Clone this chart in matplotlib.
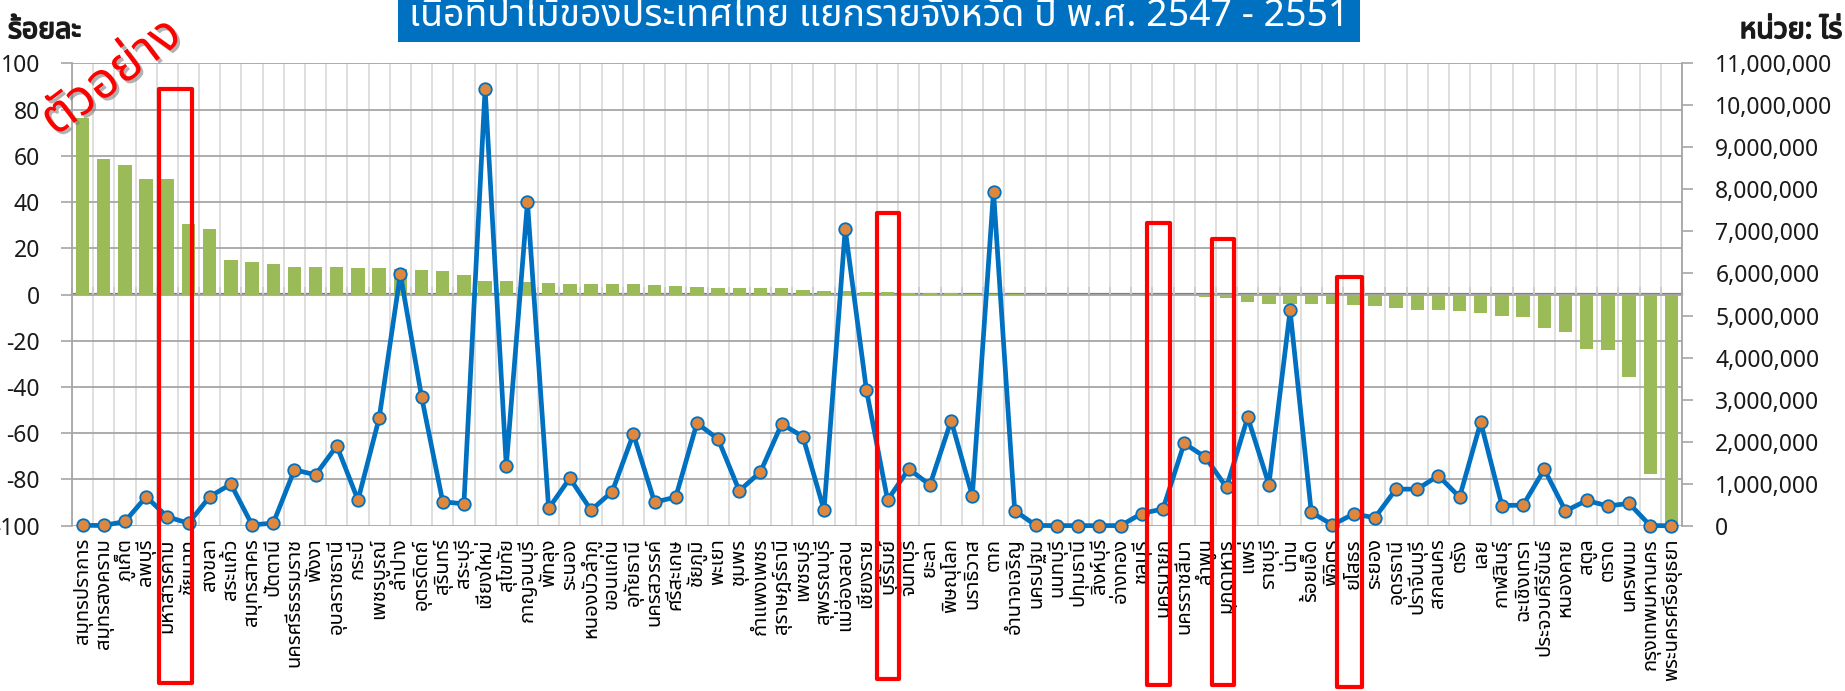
import numpy as np
import matplotlib
matplotlib.use("Agg")
import matplotlib.pyplot as plt
from matplotlib import font_manager
from matplotlib.ft2font import FT2Font
from matplotlib.patches import Rectangle
from matplotlib.ticker import FuncFormatter, NullLocator, NullFormatter
import matplotlib.patheffects as pe

# ---------------- data ----------------
provinces = [
    "สมุทรปราการ", "สมุทรสงคราม", "ภูเก็ต", "ลพบุรี", "มหาสารคาม", "ชัยนาท", "สงขลา", "สระแก้ว",
    "สมุทรสาคร", "ปัตตานี", "นครศรีธรรมราช", "พังงา", "อุบลราชธานี", "กระบี่", "เพชรบูรณ์", "ลำปาง",
    "อุตรดิตถ์", "สุรินทร์", "สระบุรี", "เชียงใหม่", "สุโขทัย", "กาญจนบุรี", "พัทลุง", "ระนอง",
    "หนองบัวลำภู", "ขอนแก่น", "อุทัยธานี", "นครสวรรค์", "ศรีสะเกษ", "ชัยภูมิ", "พะเยา", "ชุมพร",
    "กำแพงเพชร", "สุราษฎร์ธานี", "เพชรบุรี", "สุพรรณบุรี", "แม่ฮ่องสอน", "เชียงราย", "บุรีรัมย์", "จันทบุรี",
    "ยะลา", "พิษณุโลก", "นราธิวาส", "ตาก", "อำนาจเจริญ", "นครปฐม", "นนทบุรี", "ปทุมธานี",
    "สิงห์บุรี", "อ่างทอง", "ชลบุรี", "นครนายก", "นครราชสีมา", "ลำพูน", "มุกดาหาร", "แพร่",
    "ราชบุรี", "น่าน", "ร้อยเอ็ด", "พิจิตร", "ยโสธร", "ระยอง", "อุดรธานี", "ปราจีนบุรี",
    "สกลนคร", "ตรัง", "เลย", "กาฬสินธุ์", "ฉะเชิงเทรา", "ประจวบคีรีขันธ์", "หนองคาย", "สตูล",
    "ตราด", "นครพนม", "กรุงเทพมหานคร", "พระนครศรีอยุธยา",
]

pct_change = [
    76.2, 58.6, 55.8, 49.9, 49.8, 30.4, 28.3, 15.0, 14.1, 13.4, 12.1, 11.8, 11.7, 11.4, 11.3, 11.0,
    10.7, 10.1, 8.4, 5.8, 5.8, 5.5, 5.0, 4.7, 4.7, 4.4, 4.4, 3.9, 3.6, 3.2, 3.0, 2.9,
    2.7, 2.6, 2.0, 1.7, 1.3, 1.2, 1.1, 0.8, 0.6, 0.5, 0.4, 0.2, 0.1, 0.0, 0.0, 0.0,
    0.0, 0.0, 0.0, -0.1, -0.4, -1.0, -1.4, -3.2, -3.9, -3.9, -4.0, -4.2, -4.5, -5.1,
    -5.8, -6.5, -6.5, -7.1, -8.2, -9.2, -9.7, -14.3, -16.3, -23.5, -24.0, -35.7, -77.5, -100.0,
]

forest_rai = [
    8000, 6000, 100000, 690000, 210000, 60000, 690000, 990000, 20000, 60000, 1330000, 1210000,
    1900000, 610000, 2560000, 5990000, 3070000, 570000, 520000, 10400000, 1420000, 7700000, 410000, 1130000,
    370000, 810000, 2180000, 560000, 680000, 2440000, 2060000, 830000, 1280000, 2420000, 2120000, 370000,
    7060000, 3230000, 610000, 1350000, 970000, 2500000, 710000, 7950000, 360000, 5000, 3000, 2000,
    2000, 3000, 290000, 400000, 1960000, 1630000, 910000, 2580000, 980000, 5120000, 320000, 20000,
    280000, 190000, 870000, 870000, 1190000, 680000, 2460000, 480000, 490000, 1340000, 350000, 600000,
    470000, 530000, 3000, 0,
]

left_ticks = list(range(-100, 101, 20))
right_ticks = list(range(0, 11000001, 1000000))

title = "เนื้อที่ป่าไม้ของประเทศไทย แยกรายจังหวัด ปี พ.ศ. 2547 - 2551"
left_label = "ร้อยละ"
right_label = "หน่วย: ไร่"
watermark = "ตัวอย่าง"

# ---------------- fonts ----------------
thai_family = None
preferred = []
for f in font_manager.fontManager.ttflist:
    try:
        cm = FT2Font(f.fname).get_charmap()
    except Exception:
        continue
    if 0x0E01 in cm and 0x0E40 in cm and 0x0E34 in cm:
        preferred.append(f.name)
if preferred:
    order = ["Tahoma", "Leelawadee UI", "Leelawadee", "Noto Sans Thai", "Noto Sans Thai UI",
             "Loma", "Garuda", "Sarabun", "Kinnari", "Norasi"]
    for o in order:
        if o in preferred:
            thai_family = o
            break
    if thai_family is None:
        thai_family = preferred[0]
fams = ([thai_family] if thai_family else []) + ["DejaVu Sans"]
plt.rcParams["font.family"] = fams

W, H = 1845, 691
fig = plt.figure(figsize=(W / 100, H / 100), dpi=100)

px_left, px_right, px_top, px_bot = 72, 1682, 63.3, 525.7
ax = fig.add_axes([px_left / W, 1 - px_bot / H, (px_right - px_left) / W, (px_bot - px_top) / H])

n = len(provinces)
x = np.arange(n)

ax.bar(x, pct_change, width=0.63, color="#9BBB59", zorder=2)
ax.set_xlim(-0.5, n - 0.5)
ax.set_ylim(-100, 100)
ax.set_yticks(left_ticks)
ax.set_yticklabels([str(t) for t in left_ticks])
ax.grid(axis="y", which="major", color="#A6A6A6", lw=1.3)
ax.set_xticks(np.arange(-0.5, n, 1), minor=True)
ax.grid(axis="x", which="minor", color="#D9D9D9", lw=1.2)
ax.set_axisbelow(True)
ax.set_xticks(x)
ax.set_xticklabels(provinces, rotation=90, fontsize=14.5, ha="center", va="top")
ax.tick_params(axis="x", which="both", length=0, pad=9)
ax.tick_params(axis="y", length=8, width=1.2, color="#A6A6A6", pad=15, labelsize=16.5,
               labelcolor="#1a1a1a")
for s in ["top", "bottom", "right"]:
    ax.spines[s].set_visible(False)
ax.spines["left"].set_color("#A6A6A6")
ax.spines["left"].set_linewidth(1.3)

# zero (category) axis with boundary ticks
sec = ax.secondary_xaxis(0.5)
sec.set_xticks(np.arange(-0.5, n, 1))
sec.xaxis.set_minor_locator(NullLocator())
sec.xaxis.set_major_formatter(NullFormatter())
sec.tick_params(axis="x", length=5, width=1.2, color="#808080", direction="out",
                labelbottom=False, labeltop=False)
for s in sec.spines.values():
    s.set_color("#808080")
    s.set_linewidth(1.6)

ax2 = ax.twinx()
ax2.plot(x, forest_rai, color="#0070C0", lw=3.4, marker="o", ms=9, mfc="#DF873D",
         mec="#0070C0", mew=1.3, clip_on=False, zorder=5)
ax2.set_xlim(-0.5, n - 0.5)
ax2.set_ylim(0, 11000000)
ax2.set_yticks(right_ticks)
ax2.yaxis.set_major_formatter(FuncFormatter(lambda v, p: f"{int(round(v)):,}"))
ax2.tick_params(axis="y", length=8, width=1.2, color="#A6A6A6", pad=16, labelsize=16.5,
                labelcolor="#1a1a1a")
for s in ["top", "bottom", "left"]:
    ax2.spines[s].set_visible(False)
ax2.spines["right"].set_color("#A6A6A6")
ax2.spines["right"].set_linewidth(1.3)

# axis unit labels (bold look)
bold_fx = [pe.withStroke(linewidth=1.2, foreground="#1a1a1a")]
fig.text(8 / W, 1 - 38 / H, left_label, fontsize=20.5, weight="bold", ha="left", va="baseline",
         color="#1a1a1a", path_effects=bold_fx)
fig.text(1842 / W, 1 - 38 / H, right_label, fontsize=20.5, weight="bold", ha="right", va="baseline",
         color="#1a1a1a", path_effects=bold_fx)

# title banner
fig.add_artist(Rectangle((398 / W, 1 - 42 / H), 962 / W, 42 / H + 0.01, transform=fig.transFigure,
                         facecolor="#0070C0", edgecolor="none", zorder=3))
fig.text(879 / W, 1 - 26 / H, title, fontsize=27, color="white", ha="center", va="baseline", zorder=4)

# red highlight boxes
boxes = [(159, 89, 192, 683), (877, 213, 899, 679), (1147, 223, 1170, 685),
         (1212, 239, 1234, 685), (1337, 277, 1362, 687)]
for (x0, y0, x1, y1) in boxes:
    fig.add_artist(Rectangle((x0 / W, 1 - y1 / H), (x1 - x0) / W, (y1 - y0) / H,
                             transform=fig.transFigure, fill=False, edgecolor="#FF0000",
                             lw=3, joinstyle="round", zorder=10))

# watermark
fig.text(112 / W, 1 - 78 / H, watermark, fontsize=36, weight="bold", color="#FF0000",
         rotation=37, ha="center", va="center", zorder=11,
         path_effects=[pe.SimplePatchShadow(offset=(2, -2), shadow_rgbFace="#808080", alpha=0.6),
                       pe.Normal()])

fig.savefig("out.png", dpi=100)
